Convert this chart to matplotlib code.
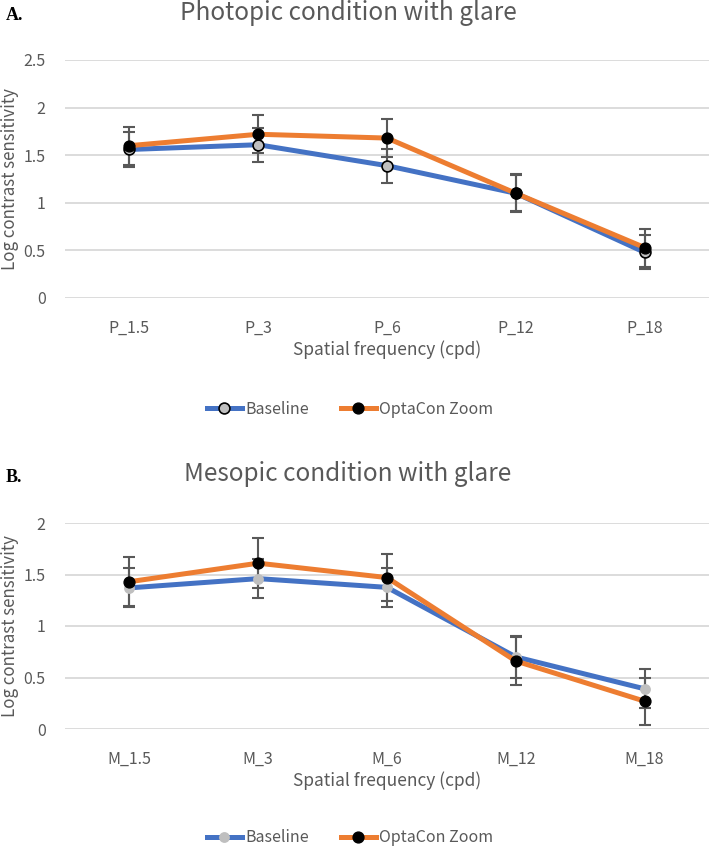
import matplotlib
matplotlib.use("Agg")
import matplotlib.pyplot as plt
from matplotlib.lines import Line2D
import numpy as np

plt.rcParams['font.family'] = ['Noto Sans CJK KR', 'DejaVu Sans']

# ---- data ----
photopic_cats = ["P_1.5", "P_3", "P_6", "P_12", "P_18"]
photopic_baseline = [1.56, 1.61, 1.39, 1.10, 0.48]
photopic_baseline_err = [0.18, 0.18, 0.18, 0.19, 0.18]
photopic_optacon = [1.60, 1.72, 1.68, 1.10, 0.53]
photopic_optacon_err = [0.20, 0.20, 0.20, 0.20, 0.20]

mesopic_cats = ["M_1.5", "M_3", "M_6", "M_12", "M_18"]
mesopic_baseline = [1.37, 1.46, 1.375, 0.70, 0.39]
mesopic_baseline_err = [0.19, 0.19, 0.19, 0.20, 0.19]
mesopic_optacon = [1.43, 1.61, 1.47, 0.66, 0.27]
mesopic_optacon_err = [0.24, 0.24, 0.23, 0.23, 0.23]

photopic_yticks = [0, 0.5, 1, 1.5, 2, 2.5]
mesopic_yticks = [0, 0.5, 1, 1.5, 2]

BLUE = "#4472C4"
ORANGE = "#ED7D31"
GRID = "#D9D9D9"
TEXT = "#595959"
ERR = "#595959"

W, H = 709, 849
fig = plt.figure(figsize=(W / 100, H / 100), dpi=100)


def frac_axes(left_px, top_px, right_px, bottom_px):
    return fig.add_axes([left_px / W, 1 - bottom_px / H,
                         (right_px - left_px) / W, (bottom_px - top_px) / H])


def draw_panel(ax, cats, base, base_err, opt, opt_err, yticks, ymax, base_edge):
    x = np.arange(len(cats))
    ax.errorbar(x, base, yerr=base_err, fmt='none', ecolor=ERR, elinewidth=1.5,
                capsize=4, capthick=1.5, zorder=2)
    ax.errorbar(x, opt, yerr=opt_err, fmt='none', ecolor=ERR, elinewidth=1.5,
                capsize=4, capthick=1.5, zorder=2)
    ax.plot(x, base, color=BLUE, lw=3.6, solid_capstyle='round', zorder=3,
            marker='o', markersize=7.8, markerfacecolor='#BFBFBF',
            markeredgecolor=base_edge, markeredgewidth=1.2 if base_edge != '#BFBFBF' else 0)
    ax.plot(x, opt, color=ORANGE, lw=3.6, solid_capstyle='round', zorder=4,
            marker='o', markersize=7.8, markerfacecolor='black',
            markeredgecolor='black', markeredgewidth=1)
    ax.set_xlim(-0.5, len(cats) - 0.5)
    ax.set_ylim(0, ymax)
    ax.set_yticks(yticks)
    ax.set_yticklabels([("%g" % v) for v in yticks])
    ax.set_xticks(x)
    ax.set_xticklabels(cats)
    for s in ax.spines.values():
        s.set_visible(False)
    ax.yaxis.grid(True, color=GRID, lw=1.3)
    ax.set_axisbelow(True)
    ax.tick_params(axis='both', length=0, colors=TEXT, labelsize=11.5)
    ax.tick_params(axis='y', pad=14)
    ax.tick_params(axis='x', pad=16)
    ax.set_xlabel("Spatial frequency (cpd)", color=TEXT, fontsize=12.5, labelpad=2)
    for art in ax.lines + ax.collections:
        art.set_clip_on(False)


# top panel
ax1 = frac_axes(65, 60, 709, 298)
draw_panel(ax1, photopic_cats, photopic_baseline, photopic_baseline_err,
           photopic_optacon, photopic_optacon_err, photopic_yticks, 2.5, 'black')

# bottom panel
ax2 = frac_axes(65, 523, 709, 729)
draw_panel(ax2, mesopic_cats, mesopic_baseline, mesopic_baseline_err,
           mesopic_optacon, mesopic_optacon_err, mesopic_yticks, 2.0, '#BFBFBF')

# y labels
for yc in [(60 + 298) / 2, (523 + 729) / 2]:
    fig.text(10 / W, 1 - yc / H, "Log contrast sensitivity", rotation=90,
             ha='center', va='center', color=TEXT, fontsize=12.2)

# titles and panel letters
fig.text(348 / W, 1 - 13 / H, "Photopic condition with glare", ha='center', va='center',
         color=TEXT, fontsize=17.5)
fig.text(348 / W, 1 - 474 / H, "Mesopic condition with glare", ha='center', va='center',
         color=TEXT, fontsize=17.5)
fig.text(6 / W, 1 - 16 / H, "A.", ha='left', va='center', color='black', fontsize=13,
         family=['Liberation Serif', 'DejaVu Serif'], fontweight='bold')
fig.text(6 / W, 1 - 478 / H, "B.", ha='left', va='center', color='black', fontsize=13,
         family=['Liberation Serif', 'DejaVu Serif'], fontweight='bold')

# legends
def legend_handles(base_edge):
    hb = Line2D([], [], color=BLUE, lw=3.6, marker='o', markersize=7.8,
                markerfacecolor='#BFBFBF', markeredgecolor=base_edge,
                markeredgewidth=1.2 if base_edge != '#BFBFBF' else 0)
    ho = Line2D([], [], color=ORANGE, lw=3.6, marker='o', markersize=7.8,
                markerfacecolor='black', markeredgecolor='black')
    return [hb, ho]

for y_px, edge in [(409, 'black'), (838, '#BFBFBF')]:
    fig.legend(legend_handles(edge), ["Baseline", "OptaCon Zoom"],
               loc='center', bbox_to_anchor=(350 / W, 1 - y_px / H), ncol=2,
               frameon=False, fontsize=11.5, handlelength=2.2, handletextpad=0.2,
               columnspacing=2.0, labelcolor=TEXT)

fig.savefig("out.png", dpi=100)
